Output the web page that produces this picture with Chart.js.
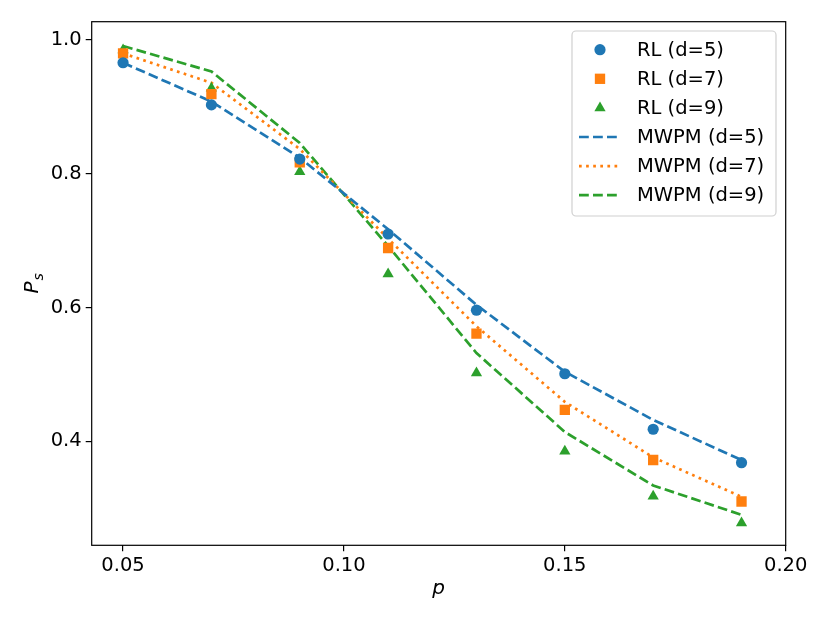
<html lang="en">
<head>
<meta charset="UTF-8">
<title>Ps vs p</title>
<script src="https://cdn.jsdelivr.net/npm/chart.js@4.4.0/dist/chart.umd.min.js"></script>
<style>
  body { margin: 0; background: #fff; }
  #box { width: 830px; height: 623px; }
</style>
</head>
<body>
<div id="box"><canvas id="myChart"></canvas></div>
<script>
// data
var pValues = [0.05, 0.07, 0.09, 0.11, 0.13, 0.15, 0.17, 0.19];
var rlD5 = [0.966, 0.903, 0.822, 0.710, 0.596, 0.501, 0.418, 0.368];
var rlD7 = [0.980, 0.919, 0.817, 0.689, 0.561, 0.447, 0.372, 0.310];
var rlD9 = [0.985, 0.928, 0.803, 0.650, 0.502, 0.385, 0.318, 0.278];
var mwpmD5 = [0.966, 0.908, 0.824, 0.717, 0.604, 0.504, 0.432, 0.372];
var mwpmD7 = [0.980, 0.936, 0.837, 0.703, 0.572, 0.459, 0.376, 0.317];
var mwpmD9 = [0.991, 0.953, 0.846, 0.692, 0.532, 0.414, 0.334, 0.290];
var xTicks = [0.05, 0.10, 0.15, 0.20];
var yTicks = [0.4, 0.6, 0.8, 1.0];
var labels = ["RL (d=5)", "RL (d=7)", "RL (d=9)", "MWPM (d=5)", "MWPM (d=7)", "MWPM (d=9)"];

var blue = "#1f77b4", orange = "#ff7f0e", green = "#2ca02c";
var font = "DejaVu Sans";

function pts(ys) {
  return ys.map(function (y, i) { return { x: pValues[i], y: y }; });
}

function markerSet(label, ys, color, style, r) {
  return {
    label: label, data: pts(ys), showLine: false,
    pointStyle: style, pointRadius: r, pointHoverRadius: r,
    backgroundColor: color, borderColor: color, borderWidth: 0
  };
}
function lineSet(label, ys, color, dash) {
  return {
    label: label, data: pts(ys), showLine: true, pointRadius: 0,
    borderColor: color, backgroundColor: color, borderWidth: 2.7,
    borderDash: dash, borderCapStyle: "butt", tension: 0, fill: false
  };
}

var datasets = [
  markerSet(labels[0], rlD5, blue, "circle", 5.6),
  markerSet(labels[1], rlD7, orange, "rect", 7.3),
  markerSet(labels[2], rlD9, green, "triangle", 6.5),
  lineSet(labels[3], mwpmD5, blue, [9.8, 4.2]),
  lineSet(labels[4], mwpmD7, orange, [2.7, 4.4]),
  lineSet(labels[5], mwpmD9, green, [9.8, 4.2])
];

function drawMarker(ctx, style, x, y, r) {
  ctx.beginPath();
  if (style === "circle") {
    ctx.arc(x, y, r, 0, Math.PI * 2);
  } else if (style === "rect") {
    var s = r * Math.SQRT1_2;
    ctx.rect(x - s, y - s, 2 * s, 2 * s);
  } else {
    ctx.moveTo(x, y - r);
    ctx.lineTo(x + r * 0.866, y + r * 0.5);
    ctx.lineTo(x - r * 0.866, y + r * 0.5);
    ctx.closePath();
  }
  ctx.fill();
}

// frame, axis labels, legend box
var extras = {
  id: "extras",
  afterDraw: function (chart) {
    var ctx = chart.ctx, a = chart.chartArea;
    ctx.save();
    ctx.strokeStyle = "#000";
    ctx.lineWidth = 1.2;
    ctx.strokeRect(a.left, a.top, a.right - a.left, a.bottom - a.top);

    // axis labels
    ctx.fillStyle = "#000";
    ctx.textAlign = "center";
    ctx.textBaseline = "middle";
    ctx.font = "italic 20px " + font;
    ctx.fillText("p", (a.left + a.right) / 2, 589);
    ctx.save();
    ctx.translate(33, (a.top + a.bottom) / 2);
    ctx.rotate(-Math.PI / 2);
    ctx.textAlign = "left";
    ctx.fillText("P", -10, 0);
    ctx.font = "italic 14px " + font;
    ctx.fillText("s", 3, 6);
    ctx.restore();

    // legend
    var lx = 572, ly = 31, lw = 204, lh = 185;
    ctx.beginPath();
    ctx.roundRect(lx, ly, lw, lh, 4);
    ctx.fillStyle = "rgba(255,255,255,0.8)";
    ctx.fill();
    ctx.strokeStyle = "#d0d0d0";
    ctx.lineWidth = 1.2;
    ctx.stroke();
    ctx.font = "19.5px " + font;
    ctx.textAlign = "left";
    chart.data.datasets.forEach(function (ds, i) {
      var y = 49.7 + i * 29.1;
      if (ds.showLine) {
        ctx.strokeStyle = ds.borderColor;
        ctx.lineWidth = ds.borderWidth;
        ctx.lineCap = "butt";
        ctx.setLineDash(ds.borderDash);
        ctx.beginPath();
        ctx.moveTo(579, y);
        ctx.lineTo(620, y);
        ctx.stroke();
        ctx.setLineDash([]);
      } else {
        ctx.fillStyle = ds.backgroundColor;
        drawMarker(ctx, ds.pointStyle, 600, y, ds.pointRadius);
      }
      ctx.fillStyle = "#000";
      ctx.fillText(ds.label, 637, y + 1);
    });
    ctx.restore();
  }
};

new Chart("myChart", {
  type: "scatter",
  data: { datasets: datasets },
  options: {
    responsive: true,
    maintainAspectRatio: false,
    animation: false,
    layout: { padding: { top: 21.7, right: 44.3, left: 0, bottom: 0 } },
    plugins: { legend: { display: false }, tooltip: { enabled: false } },
    scales: {
      x: {
        type: "linear", min: 0.0429, max: 0.20,
        afterFit: function (s) { s.height = 77.7; },
        afterBuildTicks: function (s) { s.ticks = xTicks.map(function (v) { return { value: v }; }); },
        border: { display: false },
        grid: { drawOnChartArea: false, drawTicks: true, tickLength: 6, color: "#000", lineWidth: 1.2 },
        ticks: {
          color: "#000", padding: 3, maxRotation: 0,
          font: { family: font, size: 19.5 },
          callback: function (v) { return v.toFixed(2); }
        }
      },
      y: {
        type: "linear", min: 0.2445, max: 1.0274,
        afterFit: function (s) { s.width = 91.7; },
        afterBuildTicks: function (s) { s.ticks = yTicks.map(function (v) { return { value: v }; }); },
        border: { display: false },
        grid: { drawOnChartArea: false, drawTicks: true, tickLength: 6, color: "#000", lineWidth: 1.2 },
        ticks: {
          color: "#000", padding: 4,
          font: { family: font, size: 19.5 },
          callback: function (v) { return v.toFixed(1); }
        }
      }
    }
  },
  plugins: [extras]
});
</script>
</body>
</html>
